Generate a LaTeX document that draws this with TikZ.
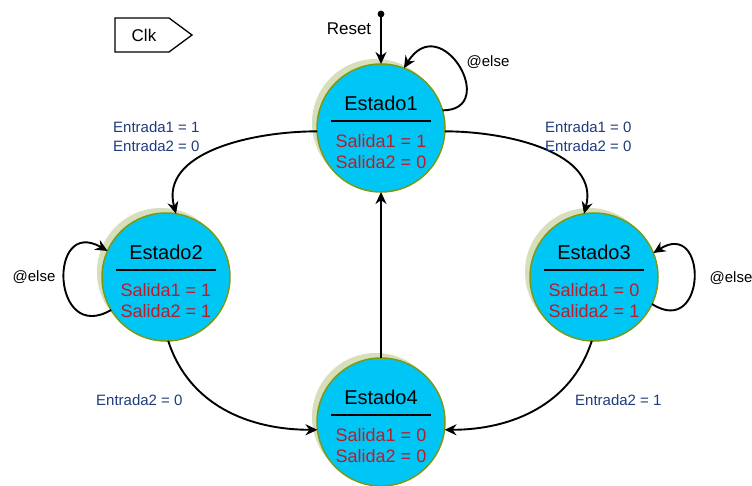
\documentclass[tikz,border=0pt]{standalone}
\usepackage{fontspec}
\setmainfont{Liberation Sans}
\usetikzlibrary{arrows.meta}

\definecolor{statefill}{HTML}{00C6F6}
\definecolor{stateborder}{HTML}{7A9A14}
\definecolor{stateshadow}{HTML}{D6DEBB}
\definecolor{outred}{HTML}{B81E2A}
\definecolor{inblue}{HTML}{1F3B7C}

\tikzset{
  statecircle/.style={circle, draw=stateborder, fill=statefill, line width=1.5pt,
    minimum size=128pt, inner sep=0pt, outer sep=0pt},
  shadowcircle/.style={circle, fill=stateshadow, minimum size=128pt, inner sep=0pt},
  statetitle/.style={font=\fontsize{20}{22}\selectfont, inner sep=0pt},
  stateout/.style={font=\fontsize{18}{20}\selectfont, text=outred, inner sep=0pt},
  sepline/.style={line width=1.8pt},
  trans/.style={line width=1.9pt, -{Stealth[length=12pt,width=11pt]}},
  inlabel/.style={font=\fontsize{15}{19}\selectfont, text=inblue, align=left, inner sep=0pt, anchor=west},
  plainlabel/.style={font=\fontsize{15}{18}\selectfont, inner sep=0pt},
  biglabel/.style={font=\fontsize{17}{20}\selectfont, inner sep=0pt},
}

% one state: shadow, circle, title, separator and the two outputs
\newcommand{\mkstate}[6]{%
  \node[shadowcircle] (#1s) at (#2-5,#3+5) {};
  \node[statecircle] (#1) at (#2,#3) {};
  \node[statetitle] (#1t) at ([yshift=25pt]#1.center) {#4};
  \draw[sepline] ([xshift=-50pt,yshift=7pt]#1.center) -- ([xshift=50pt,yshift=7pt]#1.center);
  \node[stateout] (#1a) at ([yshift=-13pt]#1.center) {#5};
  \node[stateout] (#1b) at ([yshift=-34pt]#1.center) {#6};
}

\begin{document}
\begin{tikzpicture}[x=1pt,y=1pt]
\useasboundingbox (0,0) rectangle (752,-486);

% clock tag
\draw[line width=1.3pt] (115,-18) -- (169,-18) -- (192,-35) -- (169,-52) -- (115,-52) -- cycle;
\node[biglabel] (clk) at (144,-35) {Clk};

% states
\mkstate{e1}{381}{-128}{Estado1}{Salida1 = 1}{Salida2 = 0}
\mkstate{e2}{166}{-277}{Estado2}{Salida1 = 1}{Salida2 = 1}
\mkstate{e3}{594}{-277}{Estado3}{Salida1 = 0}{Salida2 = 1}
\mkstate{e4}{381}{-422}{Estado4}{Salida1 = 0}{Salida2 = 0}

% reset entry
\coordinate (rs) at (381,-14);
\fill (rs) circle (3.4pt);
\draw[trans] (rs) -- (e1.north);
\node[biglabel] (rst) at (349,-29) {Reset};

% transitions
\draw[trans] (e1.183) to[out=180, in=105] (e2.81);
\draw[trans] (e1.-3) to[out=0, in=75] (e3.99);
\draw[trans] (e2.-88) to[out=-72, in=180] (e4.187);
\draw[trans] (e3.-92) to[out=-108, in=0] (e4.-7);
\draw[trans] (e4.north) -- (e1.south);

% self loops
\draw[trans] (e1.16) .. controls +(58,0) and +(37,60) .. (e1.69);
\draw[trans] (e2.211) .. controls +(-60,-35) and +(-60,35) .. (e2.156);
\draw[trans] (e3.-25) .. controls +(55,-35) and +(55,35) .. (e3.22);

% labels
\node[inlabel] (l12) at (113,-137) {Entrada1 = 1\\Entrada2 = 0};
\node[inlabel] (l13) at (545,-137) {Entrada1 = 0\\Entrada2 = 0};
\node[inlabel] (l24) at (96,-400) {Entrada2 = 0};
\node[inlabel] (l34) at (575,-400) {Entrada2 = 1};
\node[plainlabel] (el1) at (488,-62) {@else};
\node[plainlabel] (el2) at (34,-277) {@else};
\node[plainlabel] (el3) at (731,-278) {@else};
\end{tikzpicture}
\end{document}
